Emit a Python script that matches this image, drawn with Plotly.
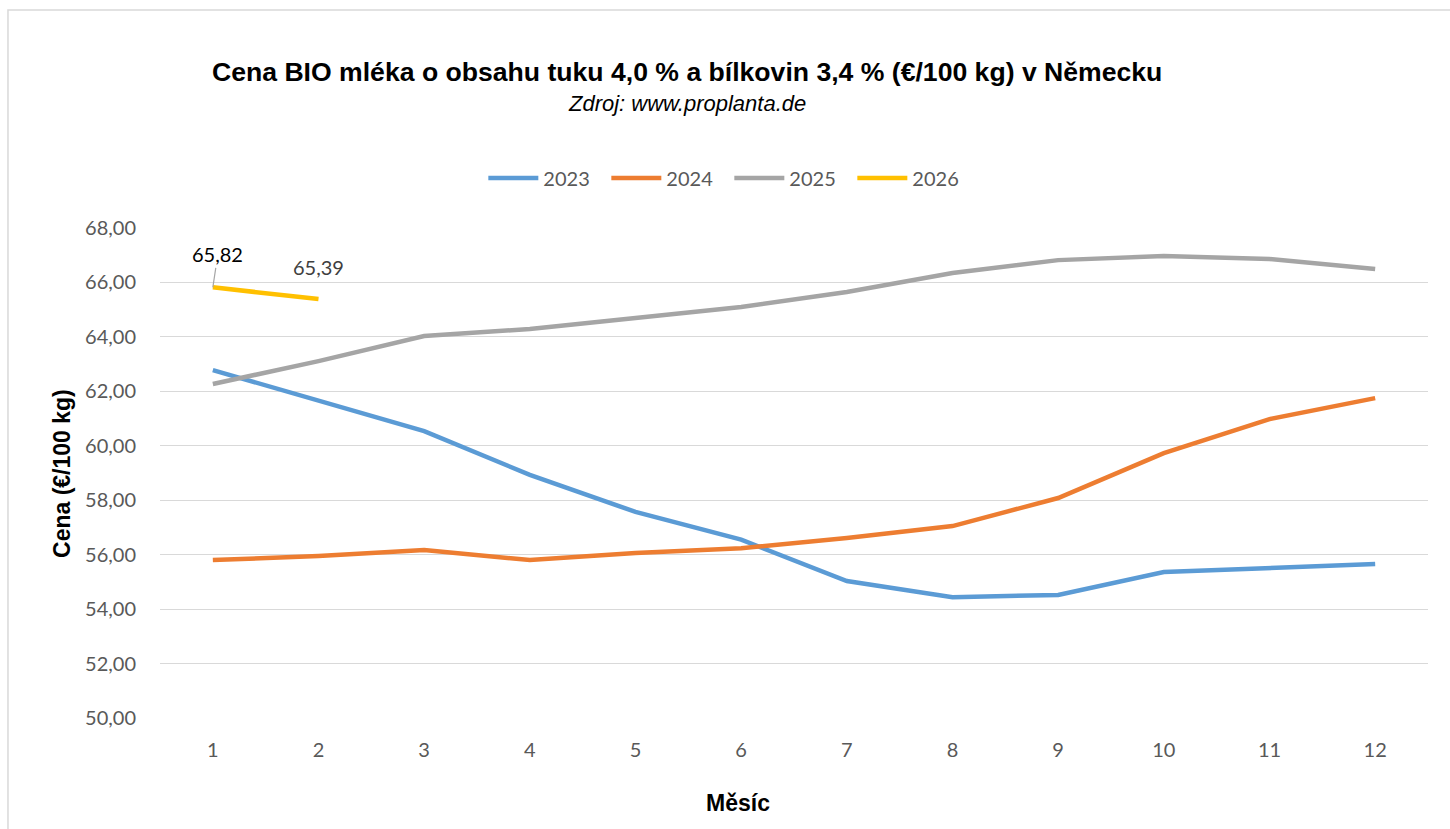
import plotly.graph_objects as go

months = [1, 2, 3, 4, 5, 6, 7, 8, 9, 10, 11, 12]
s2023 = [62.78, 61.68, 60.54, 58.93, 57.57, 56.55, 55.03, 54.44, 54.52, 55.36, 55.50, 55.66]
s2024 = [55.80, 55.95, 56.17, 55.80, 56.06, 56.24, 56.61, 57.05, 58.08, 59.73, 60.98, 61.75]
s2025 = [62.27, 63.11, 64.03, 64.29, 64.69, 65.10, 65.65, 66.35, 66.82, 66.97, 66.86, 66.49]
s2026 = [65.82, 65.39]
y_ticks = [50, 52, 54, 56, 58, 60, 62, 64, 66, 68]

series = [
    ("2023", s2023, "#5B9BD5"),
    ("2024", s2024, "#ED7D31"),
    ("2025", s2025, "#A5A5A5"),
    ("2026", s2026, "#FFC000"),
]

fig = go.Figure()
for name, vals, col in series:
    fig.add_trace(go.Scatter(
        x=months[:len(vals)], y=vals, name=name, mode="lines",
        line=dict(color=col, width=4.5, shape="linear"),
    ))

tick_font = dict(family="Lato, Open Sans, sans-serif", size=20, color="#595959")
arial = "Liberation Sans, Arial, sans-serif"

fig.update_layout(
    width=1450, height=829,
    paper_bgcolor="white", plot_bgcolor="white",
    margin=dict(l=160, r=22, t=228, b=111),
    separators=", ",
    showlegend=True,
    legend=dict(orientation="h", x=0.449, xanchor="center", y=1.102, yanchor="middle",
                font=tick_font, itemwidth=50, traceorder="normal",
                entrywidth=58, entrywidthmode="pixels"),
    xaxis=dict(range=[0.5, 12.5], tickvals=months, ticktext=[str(m) for m in months],
               showgrid=False, zeroline=False, showline=False, ticks="",
               tickfont=tick_font, ticklabelstandoff=18),
    yaxis=dict(range=[50, 68], tickvals=y_ticks, tickformat=".2f",
               showgrid=True, gridcolor="#D9D9D9", gridwidth=1.3,
               zeroline=False, showline=False, ticks="", tickfont=tick_font,
               ticklabelstandoff=23),
    annotations=[
        dict(text="<b>Cena BIO mléka o obsahu tuku 4,0 % a bílkovin 3,4 % (€/100 kg) v Německu</b>",
             xref="paper", yref="paper", x=0.416, y=1.318, showarrow=False,
             font=dict(family=arial, size=26.6, color="black"),
             xanchor="center", yanchor="middle"),
        dict(text="<i>Zdroj: www.proplanta.de</i>",
             xref="paper", yref="paper", x=0.416, y=1.255, showarrow=False,
             font=dict(family=arial, size=22, color="black"),
             xanchor="center", yanchor="middle"),
        dict(text="<b>Měsíc</b>", xref="paper", yref="paper", x=0.456, y=-0.173,
             showarrow=False, xanchor="center", yanchor="middle",
             font=dict(family=arial, size=23, color="black")),
        dict(text="<b>Cena (€/100 kg)</b>", xref="paper", yref="paper", x=-0.0773, y=0.5,
             showarrow=False, xanchor="center", yanchor="middle", textangle=-90,
             font=dict(family=arial, size=23, color="black")),
        dict(text="65,82", x=months[0], y=s2026[0], xref="x", yref="y",
             showarrow=True, arrowhead=0, arrowwidth=1.2, arrowcolor="#A6A6A6",
             ax=5, ay=-33, standoff=0, startstandoff=0,
             font=dict(family="Lato, Open Sans, sans-serif", size=20, color="black")),
        dict(text="65,39", x=months[1], y=s2026[1], xref="x", yref="y",
             showarrow=False, yshift=32,
             font=dict(family="Lato, Open Sans, sans-serif", size=20, color="#404040")),
    ],
    shapes=[
        dict(type="rect", xref="paper", yref="paper", x0=-0.1199, y0=-0.4, x1=1.2, y1=1.4449,
             line=dict(color="#D9D9D9", width=1.5), fillcolor="rgba(0,0,0,0)", layer="below"),
    ],
)

fig.write_html("out.html", config={"displayModeBar": False},
               post_script="document.body.style.margin='0';")
